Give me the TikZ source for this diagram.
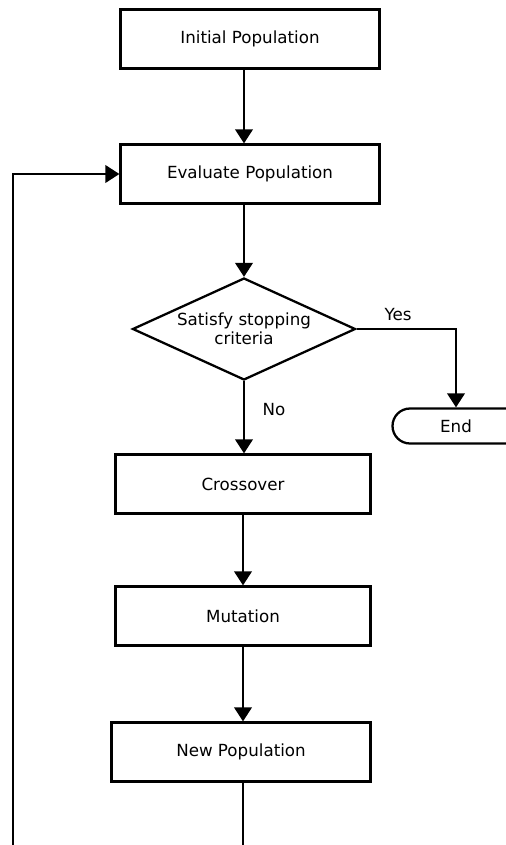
\documentclass[tikz,border=0pt]{standalone}
\usepackage{fontspec}
\setmainfont{DejaVu Sans}
\usepackage{tikz}
\usetikzlibrary{positioning}
\usetikzlibrary{shapes.geometric}
\usetikzlibrary{shapes.misc}
\usetikzlibrary{arrows.meta}

\begin{document}
\begin{tikzpicture}[x=0.02cm,y=-0.02cm]

          \tikzstyle{stepBox} = [draw, line width=1.3pt, minimum width=5.18cm, minimum height=1.18cm, font=\fontsize{9.5}{11}\selectfont];
          \tikzstyle{testNode} = [draw, diamond, aspect=2.2, inner sep=0pt, line width=1.3pt, minimum width=4.46cm, minimum height=2.04cm, align=center, font=\fontsize{9.5}{11}\selectfont];
          \tikzstyle{stopNode} = [draw, rounded rectangle, rounded rectangle right arc=none, line width=1.3pt, minimum width=2.75cm, minimum height=0.7cm, font=\fontsize{9.5}{11}\selectfont];
          \tikzstyle{edgeLabel} = [font=\fontsize{9.5}{11}\selectfont];

          \tikzstyle{flowEdge} = [line width=1.3pt, -{Triangle[length=8pt,width=10pt]}];
          \tikzstyle{plainEdge} = [line width=1.3pt];

          \useasboundingbox (0,0) rectangle (505,845);

          \node[stepBox] (init) at (250,39) {Initial Population};
          \node[stepBox] (eval) at (250,174) {Evaluate Population};
          \node[testNode] (stop) at (244,329) {Satisfy stopping\\criteria};
          \node[stopNode] (finish) at (456,426) {End};
          \node[stepBox, minimum width=5.1cm] (cross) at (243,484) {Crossover};
          \node[stepBox, minimum width=5.1cm] (mut) at (243,616) {Mutation};
          \node[stepBox] (newpop) at (241,752) {New Population};
          \node[edgeLabel] (yes) at (398,315) {Yes};
          \node[edgeLabel] (no) at (274,410) {No};
          \coordinate (loopfoot) at (13,846);
          \coordinate (newfoot) at (243,846);

          \draw[flowEdge] (init.south -| stop.north) -- (eval.north -| stop.north);
          \draw[flowEdge] (eval.south -| stop.north) -- (stop.north);
          \draw[flowEdge] (stop.east) -| (finish.north);
          \draw[flowEdge] (stop.south) -- (cross.north -| stop.south);
          \draw[flowEdge] (cross) -- (mut);
          \draw[flowEdge] (mut.south) -- (newpop.north -| mut.south);
          \draw[plainEdge] (newpop.south -| newfoot) -- (newfoot);
          \draw[flowEdge] (loopfoot) |- (eval.west);
        \end{tikzpicture}
\end{document}
